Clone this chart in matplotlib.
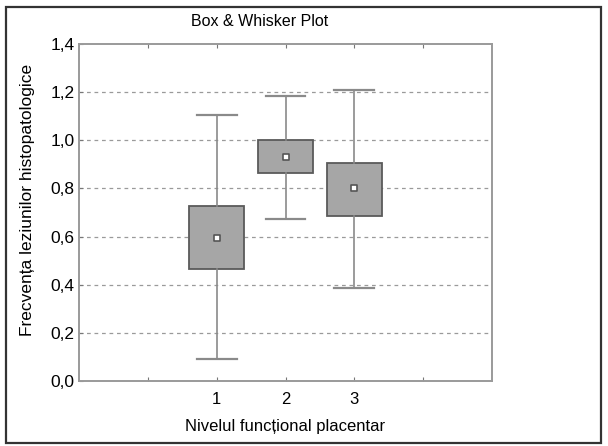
import matplotlib
matplotlib.use("Agg")
import matplotlib.pyplot as plt
from matplotlib.patches import Rectangle

plt.rcParams["font.family"] = ["Liberation Sans", "DejaVu Sans"]

# data
groups = ["1", "2", "3"]
whisker_low = [0.09, 0.675, 0.385]
box_low = [0.465, 0.865, 0.685]
middle = [0.595, 0.93, 0.80]
box_high = [0.725, 1.0, 0.905]
whisker_high = [1.105, 1.185, 1.21]

y_ticks = [0.0, 0.2, 0.4, 0.6, 0.8, 1.0, 1.2, 1.4]
y_tick_labels = ["0,0", "0,2", "0,4", "0,6", "0,8", "1,0", "1,2", "1,4"]

W, H = 608, 446
fig = plt.figure(figsize=(W / 100, H / 100), dpi=100)

# outer frame around the whole figure
fig.patches.append(Rectangle((6 / W, 3 / H), 595 / W, 436 / H, transform=fig.transFigure,
                             fill=False, edgecolor="#333333", linewidth=1.6))

ax = fig.add_axes([79 / W, 65 / H, 413 / W, 337 / H])

positions = [1, 2, 3]
stats = []
for i, g in enumerate(groups):
    stats.append({"label": g, "whislo": whisker_low[i], "q1": box_low[i], "med": middle[i],
                  "q3": box_high[i], "whishi": whisker_high[i], "fliers": []})

ax.bxp(stats, positions=positions, widths=0.8, patch_artist=True, showfliers=False,
       boxprops=dict(facecolor="#a6a6a6", edgecolor="#5a5a5a", linewidth=1.3),
       whiskerprops=dict(color="#8a8a8a", linewidth=1.2),
       capprops=dict(color="#8a8a8a", linewidth=1.6),
       capwidths=0.58,
       medianprops=dict(visible=False), zorder=3)
ax.scatter(positions, middle, marker="s", s=22, facecolor="white", edgecolor="#555555",
           linewidth=1.2, zorder=5)

ax.set_xlim(-1, 5)
ax.set_ylim(0, 1.4)
ax.set_xticks([0, 1, 2, 3, 4])
ax.set_xticklabels(["", "1", "2", "3", ""])
ax.set_yticks(y_ticks)
ax.set_yticklabels(y_tick_labels)

for y in y_ticks[1:-1]:
    ax.axhline(y, color="#9a9a9a", linewidth=0.9, linestyle=(0, (3, 3)), zorder=1)

for s in ax.spines.values():
    s.set_color("#9a9a9a")
    s.set_linewidth(1.4)

ax.tick_params(axis="x", direction="in", length=3, color="#777777", top=True,
               labelsize=12, pad=8)
ax.tick_params(axis="y", direction="in", length=3, color="#777777", labelsize=12.5, pad=3)

fig.text(260 / W, 1 - 22 / H, "Box & Whisker Plot", ha="center", va="center", fontsize=11.5)
fig.text(28 / W, 1 - 200 / H, "Frecvența leziunilor histopatologice", rotation=90,
         ha="center", va="center", fontsize=12.5)
fig.text(285 / W, 1 - 426 / H, "Nivelul funcțional placentar", ha="center", va="center",
         fontsize=12)

fig.savefig("out.png", dpi=100)
